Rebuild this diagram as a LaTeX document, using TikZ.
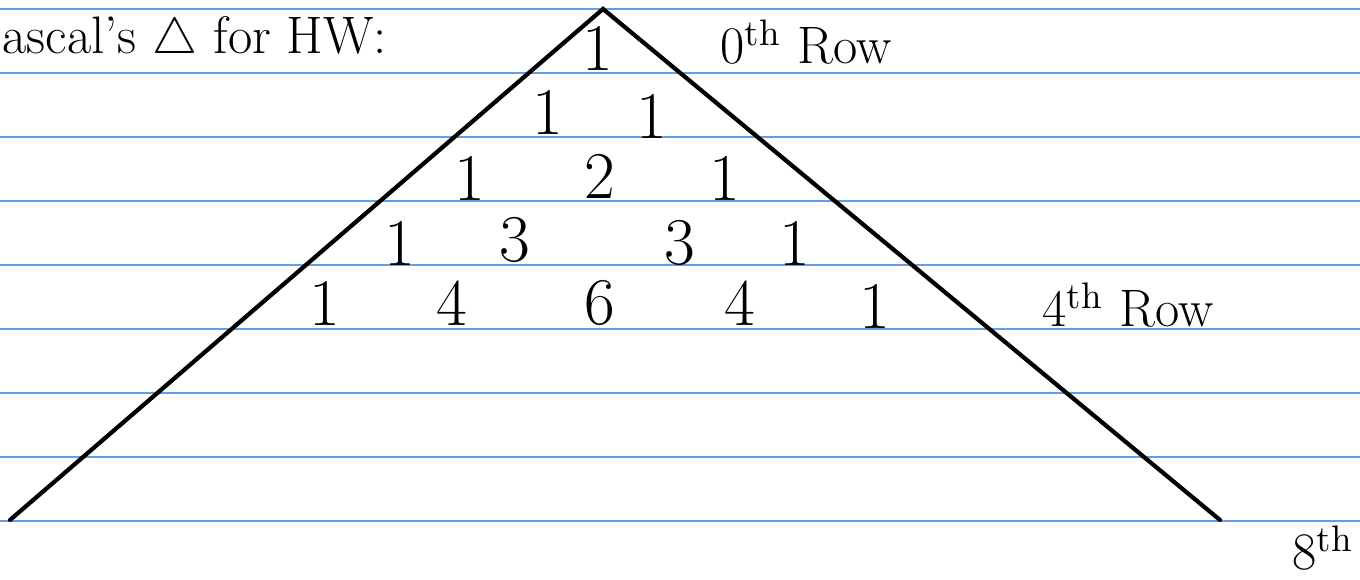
\documentclass[tikz,border=0pt]{standalone}
\definecolor{ruled}{RGB}{98,160,228}
\begin{document}
\begin{tikzpicture}[x=0.01cm,y=-0.01cm,
  ruleline/.style={ruled,line width=0.6pt},
  edge/.style={black,line width=1.2pt,line cap=round},
  num/.style={inner sep=0pt,font=\fontsize{19}{23}\selectfont},
  lbl/.style={inner sep=0pt,anchor=west,font=\fontsize{15}{18}\selectfont}]
\useasboundingbox (0,0) rectangle (1360,580);
\foreach \yy in {9,73,137,201,265,329,393,457,521}
  \draw[ruleline] (0,\yy) -- (1360,\yy);
\coordinate (apex) at (603,9);
\coordinate (left) at (10,520);
\coordinate (right) at (1220,520);
\draw[edge] (left) -- (apex) -- (right);
% row 0
\node[num] (r00) at (598,48) {1};
% row 1
\node[num] (r10) at (548,112) {1};
\node[num] (r11) at (652,116) {1};
% row 2
\node[num] (r20) at (470,178) {1};
\node[num] (r21) at (600,176) {2};
\node[num] (r22) at (725,178) {1};
% row 3
\node[num] (r30) at (400,243) {1};
\node[num] (r31) at (515,240) {3};
\node[num] (r32) at (680,243) {3};
\node[num] (r33) at (795,243) {1};
% row 4
\node[num] (r40) at (325,303) {1};
\node[num] (r41) at (452,303) {4};
\node[num] (r42) at (600,303) {6};
\node[num] (r43) at (740,303) {4};
\node[num] (r44) at (875,306) {1};
% labels
\node[lbl] (title) at (2,40) {ascal's $\triangle$ for HW:};
\node[lbl] (row0) at (720,42) {0\textsuperscript{th} Row};
\node[lbl] (row4) at (1042,305) {4\textsuperscript{th} Row};
\node[lbl] (row8) at (1292,548) {8\textsuperscript{th}};
\end{tikzpicture}
\end{document}
